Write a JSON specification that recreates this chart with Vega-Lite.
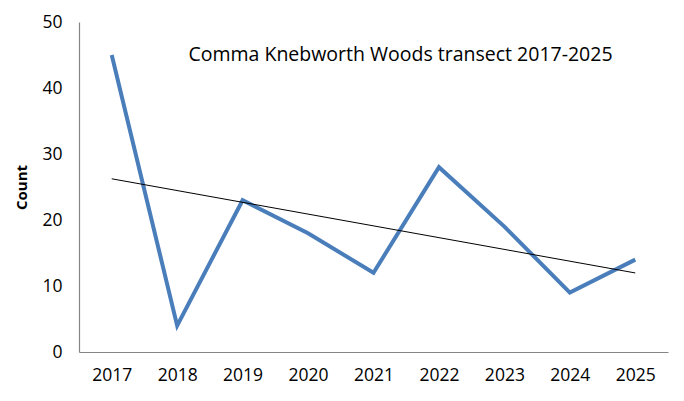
{
  "$schema": "https://vega.github.io/schema/vega-lite/v6.json",
  "width": 589,
  "height": 330,
  "autosize": "none",
  "padding": {"left": 79, "top": 22, "right": 16, "bottom": 49},
  "background": "white",
  "config": {
    "view": {"stroke": null},
    "font": "Open Sans",
    "axis": {"grid": false, "ticks": false, "domain": true, "domainColor": "#868686", "domainWidth": 1.2, "labelColor": "#000000", "labelFont": "Open Sans", "labelFontSize": 17.5}
  },
  "title": {
    "text": "Comma Knebworth Woods transect 2017-2025",
    "font": "Open Sans",
    "fontSize": 19.5,
    "fontWeight": "normal",
    "color": "#000000",
    "anchor": "middle",
    "frame": "group",
    "baseline": "alphabetic",
    "offset": 0,
    "dx": 27,
    "dy": 67
  },
  "data": {
    "values": [
      {"year": 2017, "count": 45},
      {"year": 2018, "count": 4},
      {"year": 2019, "count": 23},
      {"year": 2020, "count": 18},
      {"year": 2021, "count": 12},
      {"year": 2022, "count": 28},
      {"year": 2023, "count": 19},
      {"year": 2024, "count": 9},
      {"year": 2025, "count": 14}
    ]
  },
  "encoding": {
    "x": {
      "field": "year",
      "type": "quantitative",
      "scale": {"domain": [2016.5, 2025.5], "nice": false, "zero": false},
      "axis": {"title": null, "format": "d", "values": [2017, 2018, 2019, 2020, 2021, 2022, 2023, 2024, 2025], "labelPadding": 14, "labelFlush": false, "domainColor": "#868686"}
    },
    "y": {
      "field": "count",
      "type": "quantitative",
      "scale": {"domain": [0, 50], "nice": false},
      "axis": {"title": "Count", "values": [0, 10, 20, 30, 40, 50], "labelPadding": 17, "titleFont": "Open Sans", "titleFontSize": 15, "titleFontWeight": "bold", "titleColor": "#000000", "titlePadding": 12, "domainColor": "#868686"}
    }
  },
  "layer": [
    {
      "mark": {"type": "line", "color": "#4A7EBB", "strokeWidth": 4}
    },
    {
      "transform": [{"regression": "count", "on": "year"}],
      "mark": {"type": "line", "color": "#000000", "strokeWidth": 1}
    }
  ]
}
